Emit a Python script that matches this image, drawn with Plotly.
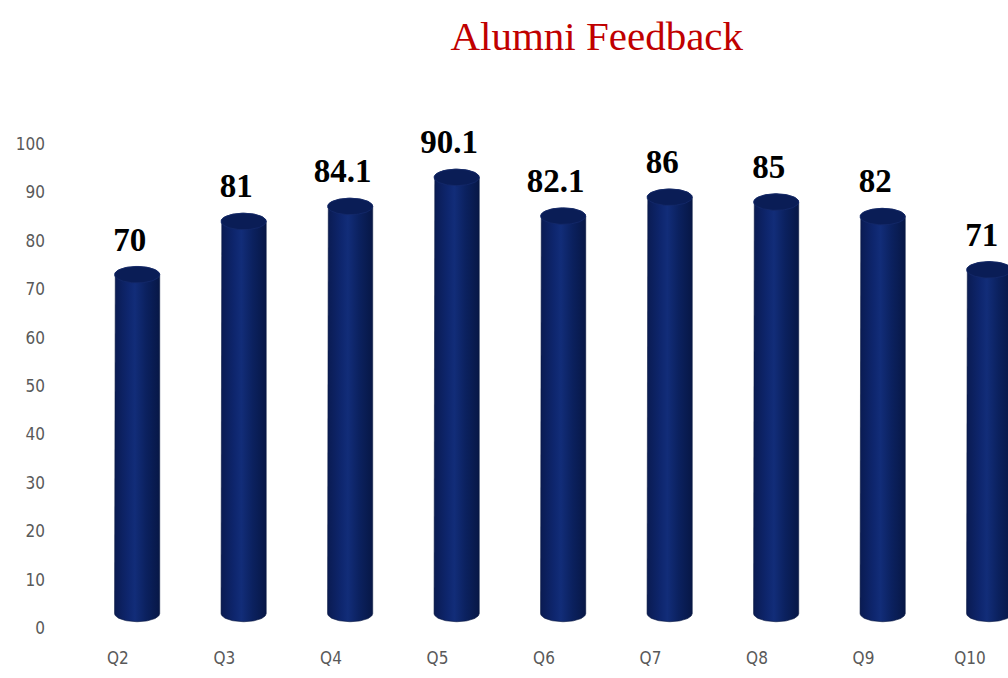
import numpy as np
import plotly.graph_objects as go

categories = ["Q2", "Q3", "Q4", "Q5", "Q6", "Q7", "Q8", "Q9", "Q10"]
values = [70, 81, 84.1, 90.1, 82.1, 86, 85, 82, 71]
value_labels = ["70", "81", "84.1", "90.1", "82.1", "86", "85", "82", "71"]
y_ticks = list(range(0, 101, 10))

DEPTH = 3.0   # 3D depth shift of the cylinders (axis units)
RX = 0.212    # cylinder half width (category units)
RY = 1.7      # ellipse vertical radius (axis units)
DX = 0.18     # perspective shift of cylinders to the right
LDX = 0.11    # label shift

body_scale = [[0, "#0a1b52"], [0.3, "#0e266e"], [0.45, "#122d79"],
              [0.7, "#0b215f"], [1, "#071746"]]

fig = go.Figure()
theta_top = np.linspace(np.pi, 0, 50)
theta_bot = np.linspace(0, -np.pi, 50)
theta_full = np.linspace(0, 2 * np.pi, 80)

for i, v in enumerate(values):
    cx = i + DX
    b = DEPTH
    t = v + DEPTH
    xs = [cx - RX] + list(cx + RX * np.cos(theta_top)) + list(cx + RX * np.cos(theta_bot))
    ys = [b] + list(t + RY * np.sin(theta_top)) + list(b + RY * np.sin(theta_bot))
    fig.add_trace(go.Scatter(
        x=xs, y=ys, mode="lines", fill="toself",
        fillgradient=dict(type="horizontal", colorscale=body_scale),
        line=dict(width=0.6, color="#06153f"), hoverinfo="skip"))
    fig.add_trace(go.Scatter(
        x=list(cx + RX * np.cos(theta_full)), y=list(t + RY * np.sin(theta_full)),
        mode="lines", fill="toself", fillcolor="#0a1d56",
        line=dict(width=0.8, color="#14296b"), hoverinfo="skip"))

fig.add_trace(go.Scatter(
    x=[i + LDX for i in range(len(values))],
    y=[v + 9.7 for v in values],
    text=value_labels, mode="text", textposition="middle center",
    textfont=dict(family="Liberation Serif", size=33, color="black", weight="bold"),
    hoverinfo="skip"))

tick_font = dict(family="DejaVu Sans Condensed, DejaVu Sans", size=17, color="#595959")

fig.update_layout(
    width=1008, height=678,
    margin=dict(l=58, r=0, t=100, b=50),
    paper_bgcolor="white", plot_bgcolor="white",
    showlegend=False,
    title=dict(text="Alumni Feedback", x=0.592, xanchor="center",
               y=1 - 36 / 678, yref="container", yanchor="middle",
               font=dict(family="Liberation Serif", size=41, color="#c00000")),
    xaxis=dict(range=[-0.563, 8.357], tickvals=list(range(len(categories))),
               ticktext=categories, showgrid=False, zeroline=False,
               showline=False, ticks="", tickfont=tick_font,
               ticklabelstandoff=18),
    yaxis=dict(range=[0, 109.09], tickvals=y_ticks, showgrid=False,
               zeroline=False, showline=False, ticks="", tickfont=tick_font,
               ticklabelstandoff=12),
)

fig.write_html("out.html", config={"displayModeBar": False},
               post_script="document.body.style.margin='0';")
